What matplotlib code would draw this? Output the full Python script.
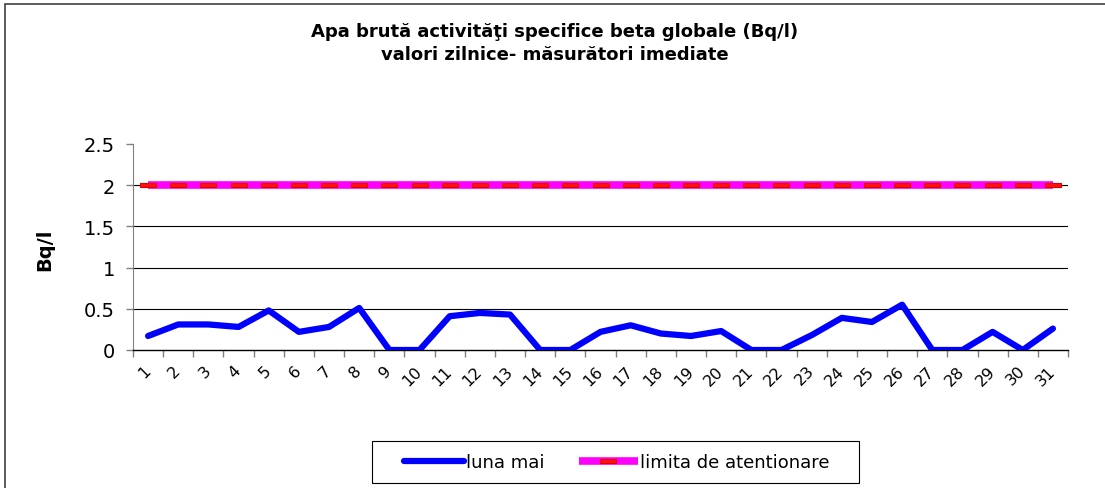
import matplotlib
matplotlib.use("Agg")
import matplotlib.pyplot as plt
from matplotlib.patches import Rectangle
import numpy as np

plt.rcParams['font.family'] = ['DejaVu Sans']

days = [str(d) for d in range(1, 32)]
luna_mai = [0.17, 0.31, 0.31, 0.28, 0.48, 0.22, 0.28, 0.51, 0.0, 0.0,
            0.41, 0.45, 0.43, 0.0, 0.0, 0.22, 0.30, 0.20, 0.17, 0.23,
            0.0, 0.0, 0.18, 0.39, 0.34, 0.55, 0.0, 0.0, 0.22, 0.0, 0.26]
limita = [2.0] * 31
title = "Apa brută activităţi specifice beta globale (Bq/l)\nvalori zilnice- măsurători imediate"
ylabel = "Bq/l"
yticks = [0, 0.5, 1, 1.5, 2, 2.5]
ytick_labels = ["0", "0.5", "1", "1.5", "2", "2.5"]

fig = plt.figure(figsize=(11.05, 4.89), dpi=100)
ax = fig.add_axes([133/1105, 1-351/489, (1068-133)/1105, (351-145)/489])

x = np.arange(1, 32)

# gridlines
for yv in yticks[1:-1]:
    ax.axhline(yv, color='#000000', lw=0.8, zorder=1)

ax.plot(x, limita, color='#ff00ff', lw=5.5, solid_capstyle='butt', zorder=2,
        marker=[(-1.6, -0.5), (1.6, -0.5), (1.6, 0.5), (-1.6, 0.5), (-1.6, -0.5)],
        markersize=11, markerfacecolor='#ff1010', markeredgecolor='#e00000',
        markeredgewidth=0.8, label='limita de atentionare')
ax.plot(x, luna_mai, color='#0000ff', lw=4.5, solid_capstyle='round',
        solid_joinstyle='round', zorder=3, label='luna mai')

ax.set_xlim(0.5, 31.5)
ax.set_ylim(0, 2.5)
ax.set_yticks(yticks)
ax.set_yticklabels(ytick_labels, fontsize=14)
ax.set_xticks(x)
ax.set_xticklabels(days, fontsize=11.5, rotation=45, ha='right', va='center',
                   rotation_mode='anchor')
ax.set_xticks(np.arange(0.5, 32.0, 1.0), minor=True)
ax.tick_params(axis='x', which='major', length=0, pad=13)
ax.tick_params(axis='x', which='minor', length=5, color='#808080', width=1)
ax.tick_params(axis='y', length=5, color='#808080', width=1, pad=8)

for s in ['top', 'right']:
    ax.spines[s].set_visible(False)
ax.spines['left'].set_color('#808080')
ax.spines['bottom'].set_color('#000000')
ax.spines['bottom'].set_linewidth(1.0)

fig.text(45/1105, 1-250/489, ylabel, rotation=90, fontsize=14, fontweight='bold',
         ha='center', va='center')
fig.text(555/1105, 1-43.5/489, title, fontsize=13, fontweight='bold',
         ha='center', va='center', linespacing=1.35)

h, l = ax.get_legend_handles_labels()
leg = fig.legend(h[::-1], l[::-1], loc='center', bbox_to_anchor=(617/1105, 1-463/489),
                 ncol=2, fontsize=13, frameon=False, handlelength=3.3,
                 handletextpad=0.1, columnspacing=1.9, borderpad=0.5)
fig.patches.append(Rectangle((372/1105, 1-484/489), (859-372)/1105, (484-442)/489,
                             transform=fig.transFigure, fill=False,
                             edgecolor='#000000', lw=0.8))

fig.patches.append(Rectangle((5/1105, -0.1), 1.2, 1-5/489+0.1, transform=fig.transFigure,
                             fill=False, edgecolor='#404040', lw=1.2))

fig.savefig('out.png', dpi=100)
